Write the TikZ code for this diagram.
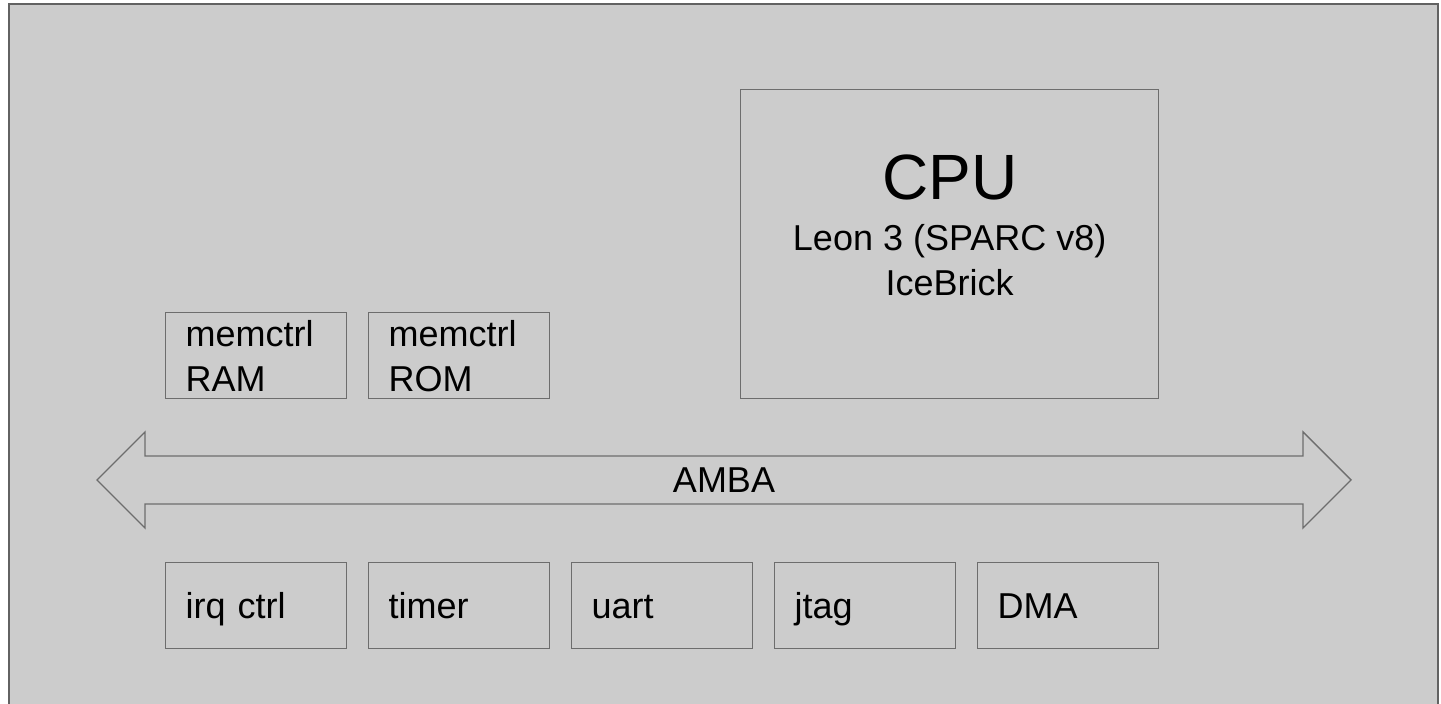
\documentclass[tikz,border=0pt]{standalone}
\usepackage{fontspec}
\setmainfont{Liberation Sans}
\usepackage{tikz}
\usetikzlibrary{positioning}
\definecolor{boardgray}{HTML}{CCCCCC}
\definecolor{edgegray}{HTML}{6D6D6D}

\begin{document}
\begin{tikzpicture}[x=0.5pt, y=-0.5pt, node distance=10.3pt,
        block/.style={draw=edgegray, line width=0.7pt, rectangle, minimum height=43pt, text width=70.5pt,
            inner xsep=10pt, inner ysep=0pt, align=left, font=\fontsize{18}{22.5}\selectfont},
        unit/.style={block, text height=12.9pt, text depth=0pt},
        cpubox/.style={draw=edgegray, line width=0.7pt, rectangle, minimum width=209pt, minimum height=154.5pt}
    ]
        \useasboundingbox (0,0) rectangle (1441,704);
        % board
        \draw [fill=boardgray, draw=edgegray!90!black, line width=1pt] (9,4) rectangle (1438,720);

        % peripherals on the bus
        \node [unit, anchor=north west] (irq) at (165,562) {irq ctrl};
        \node [unit, right=of irq] (timer) {timer};
        \node [unit, right=of timer] (uart) {uart};
        \node [unit, right=of uart] (jtag) {jtag};
        \node [unit, right=of jtag] (dma) {DMA};

        % memory controllers
        \node [block, above=81.3pt of irq] (memram) {memctrl\\RAM};
        \node [block, right=of memram] (memrom) {memctrl\\ROM};

        % processor
        \node [cpubox, anchor=south east] (cpu) at (dma.east |- memram.south) {};
        \node [below=32.5pt of cpu.north, inner sep=0pt, align=center,
            font=\fontsize{18}{22.5}\selectfont] (cpulbl)
            {{\fontsize{32}{32}\selectfont CPU}\\[3pt]Leon 3 (SPARC v8)\\IceBrick};

        % AMBA bus
        \node [font=\fontsize{18}{22.5}\selectfont, inner sep=0pt] (amba) at (724,480) {AMBA};
        \draw [draw=edgegray, line width=0.7pt, line join=miter]
            (97,480) -- (145,432) -- (145,456) -- (1303,456) -- (1303,432) -- (1351,480)
            -- (1303,528) -- (1303,504) -- (145,504) -- (145,528) -- cycle;
    \end{tikzpicture}
\end{document}
